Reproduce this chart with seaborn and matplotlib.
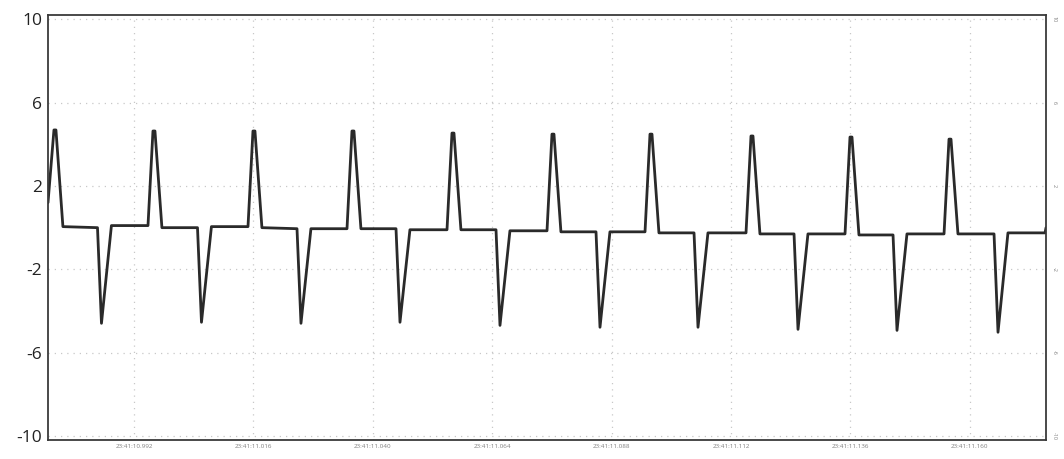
import matplotlib
matplotlib.use("Agg")
import matplotlib.pyplot as plt
import seaborn as sns

sns.set_style("white")
plt.rcParams['font.family'] = ['Open Sans', 'DejaVu Sans']

# waveform vertices (time in ms from left edge, value in V)
time_ms = [0.0, 1.2, 1.6, 3.0,
           9.95, 10.75, 12.75, 20.1, 21.1, 21.5, 22.9,
           30.05, 30.85, 32.85, 40.2, 41.2, 41.6, 43.0,
           50.05, 50.85, 52.85, 60.1, 61.1, 61.5, 62.9,
           69.95, 70.75, 72.75, 80.2, 81.2, 81.6, 83.0,
           90.05, 90.85, 92.85, 100.3, 101.3, 101.7, 103.1,
           110.15, 110.95, 112.95, 120.0, 121.0, 121.4, 122.8,
           129.85, 130.65, 132.65, 140.3, 141.3, 141.7, 143.1,
           149.95, 150.75, 152.75, 160.2, 161.2, 161.6, 163.0,
           169.85, 170.65, 172.65, 180.1, 181.1, 181.5, 182.9,
           190.15, 190.95, 192.95, 200.4, 200.6]
voltage = [1.2, 4.69, 4.69, 0.05,
           0.0, -4.59, 0.1, 0.1, 4.64, 4.64, 0.0,
           0.0, -4.54, 0.05, 0.05, 4.64, 4.64, 0.0,
           -0.05, -4.59, -0.05, -0.05, 4.64, 4.64, -0.05,
           -0.05, -4.54, -0.1, -0.1, 4.54, 4.54, -0.1,
           -0.1, -4.69, -0.15, -0.15, 4.49, 4.49, -0.2,
           -0.2, -4.78, -0.2, -0.2, 4.49, 4.49, -0.25,
           -0.25, -4.78, -0.25, -0.25, 4.40, 4.40, -0.3,
           -0.3, -4.88, -0.3, -0.3, 4.35, 4.35, -0.35,
           -0.35, -4.93, -0.3, -0.3, 4.25, 4.25, -0.3,
           -0.3, -5.02, -0.25, -0.25, 0.0]

y_ticks = [10, 6, 2, -2, -6, -10]
x_ticks = [17.3, 41.3, 65.3, 89.3, 113.3, 137.3, 161.3, 185.3]
x_labels = ["23:41:10.992", "23:41:11.016", "23:41:11.040", "23:41:11.064",
            "23:41:11.088", "23:41:11.112", "23:41:11.136", "23:41:11.160"]

fig = plt.figure(figsize=(10.64, 4.59), dpi=100)
ax = fig.add_axes([0.0451, 0.041, 0.938, 0.926])

sns.lineplot(x=time_ms, y=voltage, ax=ax, color="#2a2a2a", linewidth=2.0,
             estimator=None, solid_joinstyle="round")

ax.set_xlim(0, 200.6)
ax.set_ylim(-10.2, 10.2)
ax.set_yticks(y_ticks)
ax.set_yticklabels([str(v) for v in y_ticks], fontsize=12.5, color="#222222")
ax.set_xticks(x_ticks)
ax.set_xticklabels(x_labels, fontsize=4.5, color="#808080")
ax.tick_params(axis="both", length=0, pad=4)
ax.tick_params(axis="x", pad=3)
ax.grid(True, linestyle=(0, (1, 4)), color="#c8c8c8", linewidth=0.9)
for s in ax.spines.values():
    s.set_color("#3a3a3a")
    s.set_linewidth(1.3)

# tiny mirrored scale on the right
ax2 = ax.twinx()
ax2.set_ylim(-10.2, 10.2)
ax2.set_yticks(y_ticks)
ax2.set_yticklabels([str(v) for v in y_ticks], fontsize=4, color="#808080",
                    rotation=270, va="center")
ax2.tick_params(axis="y", length=0, pad=4)
for s in ax2.spines.values():
    s.set_visible(False)

plt.savefig("out.png", dpi=100)
